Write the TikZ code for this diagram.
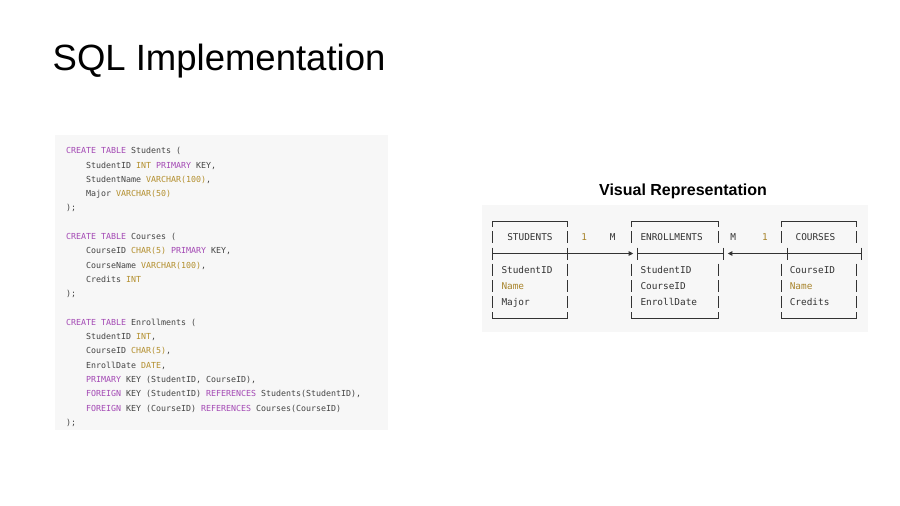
\documentclass[tikz,border=0pt]{standalone}
\usepackage{fontspec}
\setmainfont{Liberation Sans}
\newfontfamily\codefont{DejaVu Sans Mono}
\usetikzlibrary{arrows.meta}
\definecolor{panelbg}{HTML}{F7F7F7}
\definecolor{codetext}{HTML}{444444}
\definecolor{codepurple}{HTML}{A348B4}
\definecolor{codegold}{HTML}{B38F2E}
\definecolor{arttext}{HTML}{333333}
\definecolor{artgold}{HTML}{A8842C}
\newcommand\sqlkw[1]{\textcolor{codepurple}{#1}}
\newcommand\sqlty[1]{\textcolor{codegold}{#1}}
\begin{document}
\begin{tikzpicture}[x=1pt,y=-1pt,
  codeline/.style={anchor=base west,inner sep=0pt,text=codetext,font=\codefont\fontsize{8.3}{10}\selectfont},
  arttxt/.style={anchor=base west,inner sep=0pt,text=arttext,font=\codefont\fontsize{9.4}{11}\selectfont},
  artmid/.style={anchor=base,inner sep=0pt,font=\codefont\fontsize{9.4}{11}\selectfont},
  artline/.style={draw=arttext,line width=0.9pt},
  artarrow/.style={artline,-{Triangle[length=4.5pt,width=4.5pt]}}]
\useasboundingbox (0,0) rectangle (900,506);
\fill[white] (0,0) rectangle (900,506);

% title
\node[anchor=base west,inner sep=0pt,font=\fontsize{36.5}{40}\selectfont] (title) at (52.5,70) {SQL Implementation};

% code panel
\fill[panelbg] (55,135) rectangle (388,430);
\def\cx{66}
\def\ci{86}
\node[codeline] (c1) at (\cx,153.7) {\sqlkw{CREATE TABLE} Students (};
\node[codeline] (c2) at (\ci,168.0) {StudentID \sqlty{INT} \sqlkw{PRIMARY} KEY,};
\node[codeline] (c3) at (\ci,182.3) {StudentName \sqlty{VARCHAR(100)},};
\node[codeline] (c4) at (\ci,196.6) {Major \sqlty{VARCHAR(50)}};
\node[codeline] (c5) at (\cx,210.9) {);};
\node[codeline] (c7) at (\cx,239.5) {\sqlkw{CREATE TABLE} Courses (};
\node[codeline] (c8) at (\ci,253.8) {CourseID \sqlty{CHAR(5)} \sqlkw{PRIMARY} KEY,};
\node[codeline] (c9) at (\ci,268.1) {CourseName \sqlty{VARCHAR(100)},};
\node[codeline] (c10) at (\ci,282.4) {Credits \sqlty{INT}};
\node[codeline] (c11) at (\cx,296.7) {);};
\node[codeline] (c13) at (\cx,325.3) {\sqlkw{CREATE TABLE} Enrollments (};
\node[codeline] (c14) at (\ci,339.6) {StudentID \sqlty{INT},};
\node[codeline] (c15) at (\ci,353.9) {CourseID \sqlty{CHAR(5)},};
\node[codeline] (c16) at (\ci,368.2) {EnrollDate \sqlty{DATE},};
\node[codeline] (c17) at (\ci,382.5) {\sqlkw{PRIMARY} KEY (StudentID, CourseID),};
\node[codeline] (c18) at (\ci,396.8) {\sqlkw{FOREIGN} KEY (StudentID) \sqlkw{REFERENCES} Students(StudentID),};
\node[codeline] (c19) at (\ci,411.1) {\sqlkw{FOREIGN} KEY (CourseID) \sqlkw{REFERENCES} Courses(CourseID)};
\node[codeline] (c20) at (\cx,425.4) {);};

% visual representation
\node[anchor=base,inner sep=0pt,font=\bfseries\fontsize{16}{19}\selectfont] (vtitle) at (683,195.7) {Visual Representation};
\fill[panelbg] (481.5,204.5) rectangle (868,331.5);

% row positions
\def\ra{221}\def\rb{237.3}\def\rc{253.5}\def\rd{269.7}\def\re{286}\def\rf{302}\def\rg{318}
\def\bh{6}

% boxes: left/right x
\foreach \xl/\xr in {492.7/567.7, 631.7/718.3, 781/856}{
  \draw[artline] (\xl,\ra+\bh) -- (\xl,\ra) -- (\xr,\ra) -- (\xr,\ra+\bh);
  \draw[artline] (\xl,\rg-\bh) -- (\xl,\rg) -- (\xr,\rg) -- (\xr,\rg-\bh);
  \foreach \r in {\rb,\rd,\re,\rf}{
    \draw[artline] (\xl,\r-\bh) -- (\xl,\r+\bh);
    \draw[artline] (\xr,\r-\bh) -- (\xr,\r+\bh);
  }
}
% separator row (shifted as in the original)
\foreach \xl/\xr in {492.7/567.7, 637.3/723.3, 787.3/861.7}{
  \draw[artline] (\xl,\rc-\bh) -- (\xl,\rc+\bh);
  \draw[artline] (\xr,\rc-\bh) -- (\xr,\rc+\bh);
  \draw[artline] (\xl,\rc) -- (\xr,\rc);
}
\coordinate (sR) at (567.7,\rc);
\coordinate (eL) at (633.2,\rc);
\coordinate (eR) at (727.8,\rc);
\coordinate (cL) at (787.3,\rc);
\draw[artarrow] (sR) -- (eL);
\draw[artarrow] (cL) -- (eR);

% headers
\node[arttxt] (stud) at (507.1,\rb+3.4) {STUDENTS};
\node[arttxt] (enr) at (640.3,\rb+3.4) {ENROLLMENTS};
\node[arttxt] (cour) at (795.4,\rb+3.4) {COURSES};
\node[artmid,text=artgold] (m1) at (584.3,\rb+3.4) {1};
\node[artmid,text=arttext] (m2) at (612.7,\rb+3.4) {M};
\node[artmid,text=arttext] (m3) at (733.3,\rb+3.4) {M};
\node[artmid,text=artgold] (m4) at (765,\rb+3.4) {1};

% fields
\node[arttxt] (s1) at (501.3,\rd+3.4) {StudentID};
\node[arttxt,text=artgold] (s2) at (501.3,\re+3.4) {Name};
\node[arttxt] (s3) at (501.3,\rf+3.4) {Major};
\node[arttxt] (e1) at (640.3,\rd+3.4) {StudentID};
\node[arttxt] (e2) at (640.3,\re+3.4) {CourseID};
\node[arttxt] (e3) at (640.3,\rf+3.4) {EnrollDate};
\node[arttxt] (k1) at (789.6,\rd+3.4) {CourseID};
\node[arttxt,text=artgold] (k2) at (789.6,\re+3.4) {Name};
\node[arttxt] (k3) at (789.6,\rf+3.4) {Credits};
\end{tikzpicture}
\end{document}
